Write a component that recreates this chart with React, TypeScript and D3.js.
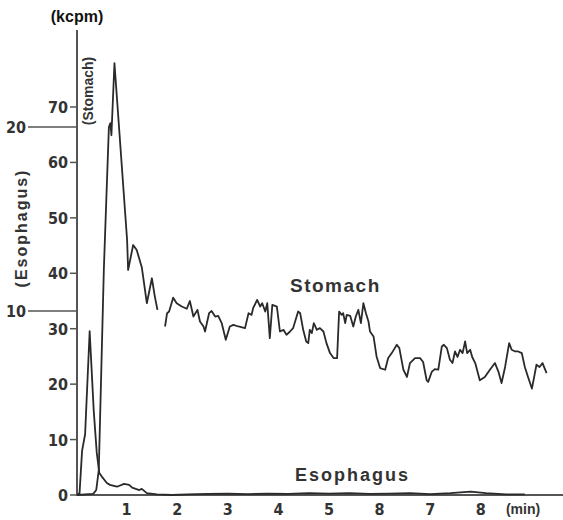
import React from "react";
import * as d3 from "d3";

// time (min), stomach counts (kcpm, stomach scale)
const stomachEarly: [number, number][] = [
  [0.02, 0], [0.34, 0.2], [0.4, 0.9], [0.45, 4.5], [0.55, 40.6], [0.65, 66.4], [0.68, 67.1],
  [0.7, 64.9], [0.76, 77.9], [1.01, 46.0], [1.03, 40.6], [1.13, 45.1], [1.2, 44.2], [1.3, 41.1],
  [1.4, 34.6], [1.5, 39.1], [1.56, 35.7], [1.61, 33.4],
];
const stomachLate: [number, number][] = [
  [1.76, 30.4], [1.8, 32.8], [1.84, 33.1], [1.92, 35.6], [1.99, 34.6], [2.09, 34.0], [2.19, 33.6],
  [2.25, 35.0], [2.32, 32.2], [2.4, 33.4], [2.45, 31.3], [2.52, 30.4], [2.55, 29.5], [2.63, 32.8],
  [2.68, 33.2], [2.75, 32.2], [2.81, 32.3], [2.88, 31.0], [2.96, 28.0], [3.04, 30.4], [3.11, 30.7],
  [3.21, 30.4], [3.34, 30.1], [3.41, 32.8], [3.47, 32.5], [3.5, 33.7], [3.58, 35.2], [3.64, 34.0],
  [3.68, 34.6], [3.74, 33.1], [3.78, 34.6], [3.83, 28.3], [3.88, 34.3], [3.97, 34.0], [4.03, 29.5],
  [4.1, 29.8], [4.16, 28.9], [4.23, 29.5], [4.29, 30.1], [4.39, 33.1], [4.43, 32.8], [4.49, 29.8],
  [4.55, 27.7], [4.59, 27.4], [4.62, 29.8], [4.66, 29.2], [4.7, 31.0], [4.76, 29.8], [4.82, 30.1],
  [4.89, 29.5], [4.95, 27.4], [5.02, 25.6], [5.09, 24.7], [5.16, 24.7], [5.2, 33.1], [5.25, 32.5],
  [5.28, 32.8], [5.32, 31.0], [5.35, 32.5], [5.42, 32.3], [5.48, 30.4], [5.53, 32.2], [5.58, 33.4],
  [5.63, 31.0], [5.68, 34.6], [5.73, 32.8], [5.78, 31.3], [5.81, 29.5], [5.88, 28.6], [5.94, 25.0],
  [6.01, 22.9], [6.11, 22.6], [6.17, 24.7], [6.24, 25.6], [6.34, 27.1], [6.39, 26.5], [6.47, 22.6],
  [6.54, 21.3], [6.6, 23.8], [6.7, 24.7], [6.8, 24.7], [6.86, 24.0], [6.93, 20.7], [6.96, 20.4],
  [7.03, 22.2], [7.09, 22.7], [7.16, 22.6], [7.23, 26.8], [7.27, 27.1], [7.33, 26.5], [7.39, 24.4],
  [7.44, 23.8], [7.49, 25.9], [7.54, 24.9], [7.59, 26.2], [7.64, 25.6], [7.69, 27.7], [7.73, 25.6],
  [7.79, 26.2], [7.83, 24.9], [7.89, 23.8], [7.98, 20.7], [8.08, 21.3], [8.18, 22.6], [8.28, 23.8],
  [8.35, 22.2], [8.41, 20.2], [8.48, 23.1], [8.56, 27.4], [8.61, 26.2], [8.68, 25.9], [8.74, 25.9],
  [8.81, 25.6], [8.87, 23.1], [8.94, 21.1], [9.01, 19.2], [9.05, 21.1], [9.1, 23.5], [9.16, 23.1],
  [9.22, 23.8], [9.3, 22.0],
];
// time (min), esophagus counts (kcpm, esophagus scale)
const esophagus: [number, number][] = [
  [0.02, 0], [0.07, 0.1], [0.12, 2.4], [0.18, 3.3], [0.27, 8.9], [0.35, 4.6], [0.41, 2.3],
  [0.46, 1.2], [0.51, 1.0], [0.61, 0.65], [0.67, 0.55], [0.81, 0.45], [0.95, 0.6], [1.05, 0.55],
  [1.11, 0.4], [1.25, 0.27], [1.3, 0.33], [1.4, 0.1], [1.6, 0.03], [1.9, 0.0], [2.2, 0.03],
  [2.6, 0.06], [3.0, 0.08], [3.4, 0.05], [3.8, 0.08], [4.2, 0.06], [4.6, 0.1], [5.0, 0.08],
  [5.4, 0.1], [5.8, 0.06], [6.2, 0.08], [6.6, 0.1], [7.0, 0.05], [7.4, 0.1], [7.8, 0.18],
  [8.1, 0.1], [8.5, 0.03], [8.87, 0.03],
];
const stomachTicks = [0, 10, 20, 30, 40, 50, 60, 70];
const esophagusTicks = [10, 20];
const timeTicks = [1, 2, 3, 4, 5, 6, 7, 8];
const timeTickLabels = ["1", "2", "3", "4", "5", "8", "7", "8"];

const W = 563;
const H = 520;
const condensed = "'Liberation Sans Narrow', 'Arial Narrow', 'DejaVu Sans Condensed', 'Liberation Sans', Arial, sans-serif";
const sans = "'Liberation Sans', Arial, sans-serif";
const ink = "#333";

export default function App() {
  const x = d3.scaleLinear().domain([0, 9]).range([76, 76 + 50.6 * 9]);
  const yS = d3.scaleLinear().domain([0, 70]).range([495, 107]);
  const yE = d3.scaleLinear().domain([0, 20]).range([495, 127]);
  const lineS = d3.line<[number, number]>().x((d) => x(d[0])).y((d) => yS(d[1]));
  const lineE = d3.line<[number, number]>().x((d) => x(d[0])).y((d) => yE(d[1]));
  const axisX = x(0) + 1;
  const baseY = yS(0);

  return (
    <svg width={W} height={H} style={{ position: "absolute", left: 0, top: 0, background: "#fff" }}>
      <rect width={W} height={H} fill="#fff" />
      {/* axes */}
      <line x1={axisX} x2={axisX} y1={30} y2={baseY + 1} stroke="#555" strokeWidth={2} />
      <line x1={axisX} x2={563} y1={baseY} y2={baseY} stroke="#555" strokeWidth={2} />
      {/* stomach ticks */}
      {stomachTicks.map((t) => (
        <g key={"s" + t}>
          <line x1={axisX - 7} x2={axisX} y1={yS(t)} y2={yS(t)} stroke="#555" strokeWidth={1.5} />
          <text x={axisX - 9} y={yS(t) + 6} textAnchor="end" fontFamily={condensed} fontWeight="bold" fontSize={16} fill={ink}>
            {t}
          </text>
        </g>
      ))}
      {/* esophagus ticks */}
      {esophagusTicks.map((t) => (
        <g key={"e" + t}>
          <line x1={28} x2={axisX} y1={yE(t)} y2={yE(t)} stroke="#555" strokeWidth={1.5} />
          <text x={26} y={yE(t) + 6} textAnchor="end" fontFamily={condensed} fontWeight="bold" fontSize={16} fill={ink}>
            {t}
          </text>
        </g>
      ))}
      {/* time labels */}
      {timeTicks.map((t, i) => (
        <text key={"t" + t} x={x(t)} y={515} textAnchor="middle" fontFamily={condensed} fontWeight="bold" fontSize={16} fill={ink}>
          {timeTickLabels[i]}
        </text>
      ))}
      <text x={523} y={514} textAnchor="middle" fontFamily={sans} fontWeight="bold" fontSize={14} fill={ink}>
        (min)
      </text>
      {/* unit & axis titles */}
      <text x={77} y={22} textAnchor="middle" fontFamily={sans} fontWeight="bold" fontSize={16} fill="#111">
        (kcpm)
      </text>
      <text transform="translate(93,91) rotate(-90)" textAnchor="middle" fontFamily={sans} fontWeight="bold" fontSize={14} fill={ink}>
        (Stomach)
      </text>
      <text transform="translate(27,228) rotate(-90)" textAnchor="middle" fontFamily={sans} fontWeight="bold" fontSize={16} letterSpacing={2} fill={ink}>
        (Esophagus)
      </text>
      {/* curves */}
      <path d={lineE(esophagus) || ""} fill="none" stroke="#2a2a2a" strokeWidth={1.8} strokeLinejoin="round" />
      <path d={lineS(stomachEarly) || ""} fill="none" stroke="#2a2a2a" strokeWidth={1.8} strokeLinejoin="round" />
      <path d={lineS(stomachLate) || ""} fill="none" stroke="#2a2a2a" strokeWidth={1.8} strokeLinejoin="round" />
      {/* series labels */}
      <text x={290} y={292} fontFamily={sans} fontWeight="bold" fontSize={19} letterSpacing={1.5} fill={ink}>
        Stomach
      </text>
      <text x={295} y={481} fontFamily={sans} fontWeight="bold" fontSize={18} letterSpacing={2} fill={ink}>
        Esophagus
      </text>
    </svg>
  );
}
